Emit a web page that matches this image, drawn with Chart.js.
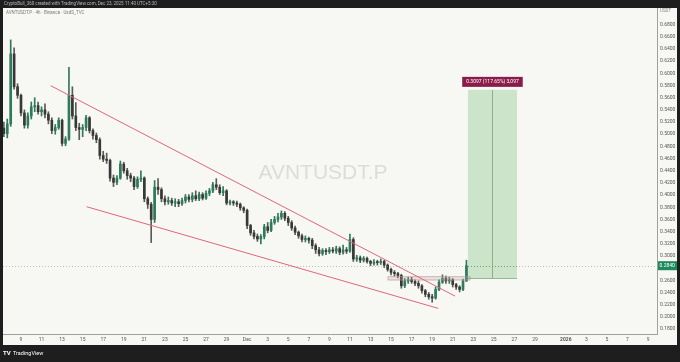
<!DOCTYPE html>
<html><head><meta charset="utf-8">
<style>html,body{margin:0;padding:0;background:#1e1e1e;overflow:hidden}canvas{display:block}</style>
<script src="https://cdn.jsdelivr.net/npm/chart.js@4/dist/chart.umd.min.js"></script>
</head><body><canvas id="c" width="680" height="362"></canvas>
<script>
// time axis in days counted from Oct 31 (Nov 9 = 9, Dec 1 = 31, Jan 1 = 62)
const startDay = 7.333;      // first 8h candle
const stepDays = 8 / 24;
const open = [
0.510,0.501,0.517,0.632,0.578,0.564,0.535,0.515,0.530,0.545,
0.547,0.537,0.540,0.533,0.523,0.506,0.511,0.523,0.485,0.492,
0.564,0.530,0.511,0.508,0.511,0.527,0.506,0.498,0.491,0.465,
0.459,0.457,0.428,0.421,0.428,0.451,0.440,0.432,0.428,0.414,
0.426,0.428,0.394,0.385,0.360,0.413,0.409,0.394,0.389,0.391,
0.387,0.389,0.386,0.391,0.397,0.393,0.399,0.394,0.401,0.395,
0.403,0.407,0.417,0.413,0.404,0.407,0.387,0.389,0.387,0.385,
0.379,0.375,0.350,0.338,0.332,0.328,0.332,0.348,0.342,0.355,
0.360,0.364,0.370,0.362,0.355,0.346,0.339,0.333,0.327,0.329,
0.326,0.317,0.310,0.304,0.309,0.307,0.310,0.308,0.312,0.306,
0.310,0.308,0.327,0.295,0.297,0.293,0.296,0.291,0.288,0.290,
0.289,0.291,0.285,0.278,0.273,0.271,0.268,0.251,0.259,0.261,
0.258,0.255,0.251,0.243,0.237,0.233,0.231,0.245,0.257,0.263,
0.259,0.261,0.253,0.249,0.245,0.259];
const high = [
0.520,0.525,0.655,0.642,0.583,0.566,0.540,0.535,0.553,0.560,
0.553,0.545,0.550,0.537,0.527,0.516,0.527,0.525,0.496,0.610,
0.578,0.552,0.518,0.516,0.531,0.529,0.509,0.502,0.494,0.472,
0.469,0.459,0.433,0.432,0.456,0.454,0.444,0.436,0.431,0.430,
0.440,0.430,0.397,0.388,0.424,0.427,0.412,0.399,0.397,0.395,
0.394,0.393,0.395,0.401,0.401,0.404,0.407,0.405,0.404,0.407,
0.411,0.421,0.427,0.417,0.414,0.409,0.392,0.391,0.390,0.387,
0.381,0.377,0.352,0.342,0.336,0.335,0.352,0.355,0.360,0.365,
0.370,0.374,0.373,0.365,0.358,0.349,0.341,0.336,0.333,0.331,
0.329,0.320,0.314,0.312,0.312,0.314,0.314,0.316,0.315,0.318,
0.314,0.336,0.330,0.301,0.300,0.299,0.298,0.293,0.294,0.293,
0.295,0.293,0.287,0.280,0.276,0.273,0.270,0.263,0.265,0.265,
0.261,0.259,0.253,0.245,0.240,0.237,0.249,0.261,0.269,0.267,
0.265,0.263,0.255,0.251,0.262,0.293];
const low = [
0.496,0.494,0.513,0.574,0.559,0.530,0.510,0.510,0.525,0.537,
0.533,0.530,0.527,0.517,0.501,0.500,0.508,0.481,0.481,0.490,
0.525,0.506,0.491,0.496,0.506,0.502,0.492,0.486,0.459,0.455,
0.452,0.423,0.414,0.417,0.426,0.436,0.426,0.422,0.409,0.411,
0.422,0.389,0.378,0.322,0.355,0.401,0.389,0.384,0.385,0.383,
0.381,0.381,0.383,0.387,0.389,0.389,0.391,0.391,0.392,0.393,
0.399,0.404,0.409,0.401,0.399,0.384,0.384,0.383,0.381,0.375,
0.371,0.345,0.334,0.328,0.324,0.320,0.328,0.338,0.340,0.352,
0.356,0.360,0.358,0.350,0.342,0.335,0.329,0.323,0.323,0.321,
0.312,0.304,0.300,0.301,0.302,0.304,0.305,0.304,0.302,0.303,
0.304,0.306,0.291,0.291,0.289,0.290,0.288,0.284,0.285,0.285,
0.286,0.281,0.275,0.269,0.267,0.264,0.247,0.248,0.255,0.255,
0.251,0.247,0.239,0.233,0.229,0.224,0.229,0.243,0.255,0.255,
0.255,0.249,0.245,0.241,0.243,0.258];
const close = [
0.501,0.517,0.632,0.578,0.564,0.535,0.515,0.530,0.545,0.547,
0.537,0.540,0.533,0.523,0.506,0.511,0.523,0.485,0.492,0.564,
0.530,0.511,0.508,0.511,0.527,0.506,0.498,0.491,0.465,0.459,
0.457,0.428,0.421,0.428,0.451,0.440,0.432,0.428,0.414,0.426,
0.428,0.394,0.385,0.360,0.413,0.409,0.394,0.389,0.391,0.387,
0.389,0.386,0.391,0.397,0.393,0.399,0.394,0.401,0.395,0.403,
0.407,0.417,0.413,0.404,0.407,0.387,0.389,0.387,0.385,0.379,
0.375,0.350,0.338,0.332,0.328,0.332,0.348,0.342,0.355,0.360,
0.364,0.370,0.362,0.355,0.346,0.339,0.333,0.327,0.329,0.326,
0.317,0.310,0.304,0.309,0.307,0.310,0.308,0.312,0.306,0.310,
0.308,0.327,0.295,0.297,0.293,0.296,0.291,0.288,0.290,0.289,
0.291,0.285,0.278,0.273,0.271,0.268,0.251,0.259,0.261,0.258,
0.255,0.251,0.243,0.237,0.233,0.231,0.245,0.257,0.263,0.259,
0.261,0.253,0.249,0.245,0.259,0.284];

const xTickDays   = [9,11,13,15,17,19,21,23,25,27,29,31,33,35,37,39,41,43,45,47,49,51,53,55,57,59,62,64,66,68,70];
const xTickLabels = ['9','11','13','15','17','19','21','23','25','27','29','Dec','3','5','7','9','11','13','15','17','19','21','23','25','27','29','2026','3','5','7','9'];
const yTicks = [0.18,0.20,0.22,0.24,0.26,0.28,0.30,0.32,0.34,0.36,0.38,0.40,0.42,0.44,0.46,0.48,0.50,0.52,0.54,0.56,0.58,0.60,0.62,0.64,0.66,0.68];

// drawings: [day, price]
const upperTrend = [[11.89,0.5798],[51.22,0.2341]];
const lowerTrend = [[15.39,0.3809],[49.59,0.2139]];
const supportZone = {from:44.70, to:52.68, top:0.2659, bottom:0.2605};
const longPos = {from:52.48, to:57.25, entry:0.2632, target:0.5729};
const longLabel = '0.3097 (117.65%) 3,097';
const symbolName = 'AVNTUSDT.P';
const headerText = 'CryptoBull_360 created with TradingView.com, Dec 23, 2025 11:40 UTC+5:30';
const legendText = 'AVNTUSDT.P · 4h · Binance · UsdS_TVC';

const UP = '#2d7a5c', DOWN = '#383838';
const xs = open.map((_, i) => startDay + i * stepDays);
const isUp = open.map((o, i) => close[i] >= o);
const wickData = xs.map((x, i) => ({x, y:[low[i], high[i]]}));
const bodyData = xs.map((x, i) => ({x, y:[open[i], close[i]]}));

const FONT = 'Roboto, "Liberation Sans", sans-serif';

const frame = {
  id:'frame',
  beforeDraw(ch){
    const c = ch.ctx;
    c.save();
    c.fillStyle = '#1e1e1e'; c.fillRect(0,0,680,362);
    c.fillStyle = '#f7f7f3'; c.fillRect(3,8,674,337);
    c.fillStyle = '#b8b8b8'; c.font = '4.5px ' + FONT; c.textBaseline='middle';
    c.fillText(headerText, 4, 4);
    c.fillStyle = '#ffffff';
    c.font = 'bold 6px ' + FONT;
    c.fillText('TV', 3, 353.5);
    c.font = '5.5px ' + FONT;
    c.fillText('TradingView', 13, 353.5);
    c.fillStyle = '#dcdcd8';
    c.font = '21px "Liberation Sans", Arial, sans-serif';
    c.textAlign = 'center';
    c.fillText(symbolName, 323, 173);
    c.textAlign = 'left';
    c.fillStyle = '#7a7a7a'; c.font = '4.5px ' + FONT;
    c.fillText(legendText, 6, 13);
    c.fillStyle = '#8a8a8a';
    c.fillText('USDT', 660, 10.5);
    c.restore();
  },
  afterDatasetsDraw(ch){
    const c = ch.ctx, X = ch.scales.x, Y = ch.scales.y, a = ch.chartArea;
    c.save();
    c.beginPath(); c.rect(a.left, a.top, a.right-a.left, a.bottom-a.top); c.clip();
    const py = Y.getPixelForValue(close[close.length-1]);
    c.strokeStyle = 'rgba(120,120,120,0.45)'; c.lineWidth = 1; c.setLineDash([1,2]);
    c.beginPath(); c.moveTo(a.left, Math.round(py)+0.5); c.lineTo(a.right, Math.round(py)+0.5); c.stroke();
    c.setLineDash([]);
    const sx1 = X.getPixelForValue(supportZone.from), sx2 = X.getPixelForValue(supportZone.to);
    const sy1 = Y.getPixelForValue(supportZone.top), sy2 = Y.getPixelForValue(supportZone.bottom);
    c.fillStyle = 'rgba(170,170,170,0.25)'; c.fillRect(sx1, sy1, sx2-sx1, sy2-sy1);
    c.strokeStyle = 'rgba(200,140,140,0.8)'; c.lineWidth = 0.8; c.strokeRect(sx1, sy1, sx2-sx1, sy2-sy1);
    const lx1 = X.getPixelForValue(longPos.from), lx2 = X.getPixelForValue(longPos.to);
    const ly1 = Y.getPixelForValue(longPos.target), ly2 = Y.getPixelForValue(longPos.entry);
    c.fillStyle = 'rgba(76,175,80,0.25)'; c.fillRect(lx1, ly1, lx2-lx1, ly2-ly1);
    c.strokeStyle = 'rgba(120,160,120,0.7)'; c.lineWidth = 1;
    c.beginPath(); c.moveTo(lx1, Math.round(ly2)+0.5); c.lineTo(lx2, Math.round(ly2)+0.5); c.stroke();
    const mx = Math.round((lx1+lx2)/2)+0.5;
    c.strokeStyle = 'rgba(110,130,110,0.6)';
    c.beginPath(); c.moveTo(mx, ly1); c.lineTo(mx, ly2); c.stroke();
    c.setLineDash([1,2]); c.strokeStyle = 'rgba(90,150,90,0.7)';
    c.beginPath(); c.moveTo(lx1, Math.round(py)+0.5); c.lineTo(lx2, Math.round(py)+0.5); c.stroke();
    c.setLineDash([]);
    c.strokeStyle = '#e0677a'; c.lineWidth = 1;
    for (const t of [upperTrend, lowerTrend]) {
      c.beginPath();
      c.moveTo(X.getPixelForValue(t[0][0]), Y.getPixelForValue(t[0][1]));
      c.lineTo(X.getPixelForValue(t[1][0]), Y.getPixelForValue(t[1][1]));
      c.stroke();
    }
    c.restore();
    c.save();
    c.font = '5px ' + FONT;
    const tw = c.measureText(longLabel).width + 8;
    const cx = (lx1+lx2)/2;
    c.fillStyle = '#8a1c4a';
    c.fillRect(cx - tw/2, ly1 - 13, tw, 10);
    c.fillStyle = '#ffffff'; c.textAlign='center'; c.textBaseline='middle';
    c.fillText(longLabel, cx, ly1 - 8);
    c.fillStyle = '#1d8a5c';
    c.fillRect(a.right+1, py-4.5, 19, 9);
    c.fillStyle = '#ffffff'; c.textAlign='left';
    c.fillText(close[close.length-1].toFixed(4), a.right+2.5, py);
    c.restore();
  }
};

new Chart(document.getElementById('c'), {
  type:'bar',
  data:{datasets:[
    {data:wickData, backgroundColor:isUp.map(u=>u?UP:'#5a5a5a'), barThickness:1, grouped:false, order:2},
    {data:bodyData, backgroundColor:isUp.map(u=>u?UP:DOWN), barThickness:2, minBarLength:1, grouped:false, order:1}
  ]},
  options:{
    responsive:false, animation:false, events:[],
    layout:{padding:{left:3,top:8,right:3,bottom:17}},
    plugins:{legend:{display:false}, tooltip:{enabled:false}},
    scales:{
      x:{type:'linear', min:7.25, max:70.87, offset:false,
         afterBuildTicks:s=>{s.ticks = xTickDays.map(v=>({value:v}));},
         afterFit:s=>{s.height = 11;},
         ticks:{autoSkip:false, maxRotation:0, padding:3, color:'#555',
           callback:(v,i)=>xTickLabels[i],
           font:ctx=>({size:5, family:FONT, weight: xTickLabels[ctx.index]==='2026'?'bold':'normal'})},
         grid:{display:false, drawTicks:false},
         border:{display:true, color:'#a0a0a0'}},
      y:{position:'right', min:0.1718, max:0.7074,
         afterBuildTicks:s=>{s.ticks = yTicks.map(v=>({value:v}));},
         afterFit:s=>{s.width = 20;},
         ticks:{padding:3, color:'#555', font:{size:5, family:FONT}, callback:v=>v.toFixed(4)},
         grid:{display:false, drawTicks:false},
         border:{display:true, color:'#a0a0a0'}}
    }
  },
  plugins:[frame]
});
</script></body></html>
